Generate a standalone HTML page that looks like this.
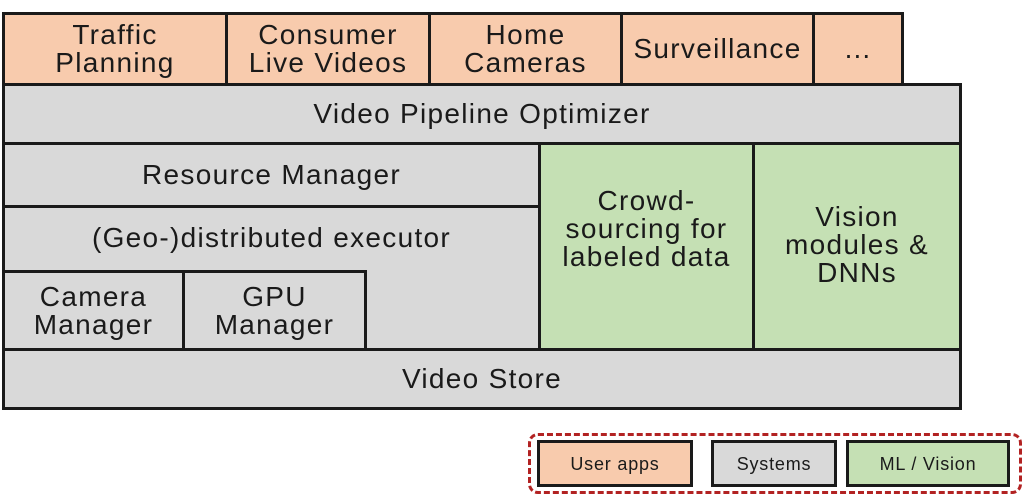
<!DOCTYPE html>
<html><head><meta charset="utf-8"><style>
html,body{margin:0;padding:0;background:#fff;width:1024px;height:496px;overflow:hidden}
.b{position:absolute;box-sizing:border-box;border:3px solid #1a1a1a;display:flex;align-items:center;justify-content:center;text-align:center;font-family:"Liberation Sans",sans-serif;font-size:28px;line-height:28px;letter-spacing:1.3px;color:#1a1a1a}
.p{background:#f8cbad}.g{background:#d9d9d9}.v{background:#c5e0b4}
.s{font-size:18px;line-height:20px;letter-spacing:0.8px}
</style></head><body>
<div class="b p" style="left:2px;top:12px;width:226px;height:74px">Traffic<br>Planning</div>
<div class="b p" style="left:225px;top:12px;width:206px;height:74px">Consumer<br>Live Videos</div>
<div class="b p" style="left:428px;top:12px;width:195px;height:74px">Home<br>Cameras</div>
<div class="b p" style="left:620px;top:12px;width:195px;height:74px">Surveillance</div>
<div class="b p" style="left:812px;top:12px;width:92px;height:74px">…</div>
<div class="b g" style="left:2px;top:83px;width:960px;height:62px">Video Pipeline Optimizer</div>
<div class="b g" style="left:2px;top:142px;width:539px;height:66px">Resource Manager</div>
<div class="b g" style="left:2px;top:205px;width:539px;height:146px;align-items:flex-start;padding-top:16px">(Geo-)distributed executor</div>
<div class="b g" style="left:2px;top:270px;width:183px;height:81px">Camera<br>Manager</div>
<div class="b g" style="left:182px;top:270px;width:185px;height:81px">GPU<br>Manager</div>
<div class="b v" style="left:538px;top:142px;width:217px;height:209px;align-items:flex-start;padding-top:42px">Crowd-<br>sourcing for<br>labeled data</div>
<div class="b v" style="left:752px;top:142px;width:210px;height:209px;align-items:flex-start;padding-top:58px">Vision<br>modules &amp;<br>DNNs</div>
<div class="b g" style="left:2px;top:348px;width:960px;height:62px">Video Store</div>
<div style="position:absolute;left:528px;top:433px;width:494px;height:61px;box-sizing:border-box;border:3px dashed #b22222;border-radius:10px"></div>
<div class="b p s" style="left:537px;top:440px;width:156px;height:47px">User apps</div>
<div class="b g s" style="left:711px;top:440px;width:126px;height:47px">Systems</div>
<div class="b v s" style="left:846px;top:440px;width:164px;height:47px">ML / Vision</div>
</body></html>
